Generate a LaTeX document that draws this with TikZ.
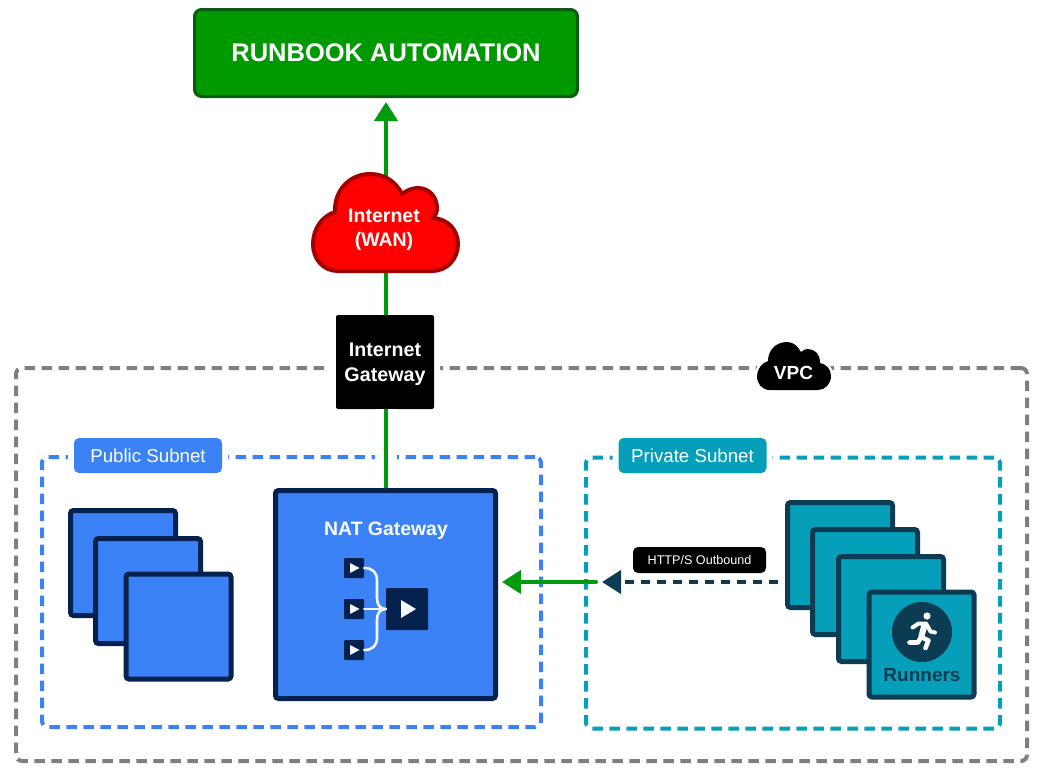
\documentclass[tikz,border=0pt]{standalone}
\usepackage{fontspec}
\setmainfont{Liberation Sans}
\usetikzlibrary{arrows.meta,calc}
\definecolor{rbgreen}{HTML}{009900}
\definecolor{rbedge}{HTML}{0B5A12}
\definecolor{lnk}{HTML}{009A0E}
\definecolor{pubblue}{HTML}{3B82F6}
\definecolor{navy}{HTML}{05224F}
\definecolor{teal1}{HTML}{069FBA}
\definecolor{tealdark}{HTML}{0B3C53}
\definecolor{vpcgrey}{HTML}{7F7F7F}
\definecolor{cloudedge}{HTML}{A30000}
\definecolor{softwhite}{HTML}{F4F7FF}
\newcommand{\fsz}[1]{\fontsize{#1pt}{\dimexpr #1pt*13/10\relax}\selectfont}
\tikzset{
  x=1pt,y=-1pt,
  region/.style={draw,line width=4pt,dash pattern=on 10.5pt off 6.5pt,rounded corners=6pt,inner sep=0pt,fill=none},
  halo/.style={preaction={draw=white,line width=#1,dash pattern=}},
  tag/.style={halo=12pt,rounded corners=5pt,inner sep=0pt,text=white,font=\fsz{18.7}},
  pubcard/.style={draw=navy,fill=pubblue,line width=5pt,rounded corners=3pt,inner sep=0pt},
  runcard/.style={draw=tealdark,fill=teal1,line width=5pt,rounded corners=3pt,inner sep=0pt},
  minicard/.style={fill=navy,rounded corners=1pt,inner sep=0pt},
  play/.style={fill=softwhite,draw=none},
  flow/.style={draw=lnk,line width=4pt,-{Triangle[length=19pt,width=23pt]}},
  fork/.style={draw=softwhite,line width=2.6pt,line cap=round},
  limb/.style={draw=white,line width=4pt,line cap=round,line join=round}
}
\begin{document}
\begin{tikzpicture}
\useasboundingbox (0,0) rectangle (1045,772);
% regions
\node[region,draw=vpcgrey,minimum width=1011pt,minimum height=393pt] (vpc) at (521.5,564.5) {};
\node[region,draw=pubblue,minimum width=499pt,minimum height=270pt] (pub) at (291.5,592) {};
\node[region,draw=teal1,minimum width=414pt,minimum height=271pt] (priv) at (793,593) {};
\node[tag,fill=pubblue,minimum width=148pt,minimum height=35pt,text depth=0pt] (publabel) at (148,455.5) {Public Subnet};
\node[tag,fill=teal1,minimum width=148pt,minimum height=35pt] (privlabel) at (692.5,455.5) {Private Subnet};
% main boxes
\node[draw=rbedge,fill=rbgreen,line width=3pt,rounded corners=7pt,minimum width=383pt,minimum height=87pt,inner sep=0pt,text=white,font=\bfseries\fsz{25.5}] (rb) at (386,53) {RUNBOOK AUTOMATION};
\node[halo=12pt,fill=black,rounded corners=2pt,minimum width=98pt,minimum height=94pt,inner sep=0pt,text=white,align=center,font=\bfseries\fsz{19.7}] (gw) at (385,362) {};
\node[text=white,align=center,inner sep=0pt,font=\bfseries\fsz{19.7}] (gwtext) at (385,364) {Internet\\[-1pt]Gateway};
\node[draw=navy,fill=pubblue,line width=5pt,rounded corners=3pt,minimum width=220pt,minimum height=208pt,inner sep=0pt] (nat) at (385.5,594.5) {};
\node[text=white,inner sep=0pt,font=\bfseries\fsz{19.4}] (nattitle) at (386,531) {NAT Gateway};
% connectors
\draw[flow,shorten >=4pt] (rb.south |- gw.north) -- (rb.south);
\draw[draw=white,line width=22pt] (rb.south |- gw.south) -- ([yshift=2pt]rb.south |- nat.north);
\draw[draw=lnk,line width=4pt] (rb.south |- gw.south) -- (rb.south |- nat.north);
% cloud
\draw[draw=cloudedge,fill=red,line width=4pt,line join=round] (338,271) .. controls (323,271) and (313,259) .. (313,244) .. controls (313,229) and (322,216) .. (335,212) .. controls (334,190) and (350,174) .. (370,174) .. controls (385,174) and (396,182) .. (402,194) .. controls (407,190) and (413,188) .. (418,188) .. controls (429,188) and (437,197) .. (437,208) .. controls (437,212) and (436,215) .. (433,218) .. controls (448,219) and (458,230) .. (458,244) .. controls (458,259) and (447,271) .. (432,271) -- cycle;
\node[text=white,align=center,inner sep=0pt,font=\bfseries\fsz{19.5}] (wan) at (384,230) {Internet\\[-1pt](WAN)};
% VPC cloud
\fill[black,preaction={draw=white,line width=5pt}] (770,390) .. controls (762,390) and (757,384) .. (757,376) .. controls (757,369) and (762,363) .. (768,361) .. controls (768,350) and (776,342) .. (787,342) .. controls (793,342) and (798,346) .. (801,352) .. controls (803,350) and (806,349) .. (808,349) .. controls (815,349) and (820,355) .. (820,361) .. controls (820,362) and (820,363) .. (820,363) .. controls (826,364) and (831,369) .. (831,376) .. controls (831,384) and (825,390) .. (818,390) -- cycle;
\node[text=white,inner sep=0pt,font=\bfseries\fsz{19}] (vpclabel) at (793.5,373) {VPC};
% public stack
\node[pubcard,minimum width=105pt,minimum height=105pt] (p1) at (123,563) {};
\node[pubcard,minimum width=105pt,minimum height=105pt] (p2) at (148,591) {};
\node[pubcard,minimum width=105pt,minimum height=105pt] (p3) at (178.5,626.5) {};
% private stack
\node[runcard,minimum width=105pt,minimum height=105pt] (r1) at (840,555) {};
\node[runcard,minimum width=105pt,minimum height=105pt] (r2) at (865,582) {};
\node[runcard,minimum width=105pt,minimum height=105pt] (r3) at (891,609) {};
\node[runcard,minimum width=105pt,minimum height=105pt] (r4) at (921.5,644.5) {};
\node[circle,fill=tealdark,minimum size=60pt,inner sep=0pt] (icon) at (922,632) {};
\node[text=tealdark,inner sep=0pt,font=\bfseries\fsz{19}] (runlabel) at (922,675) {Runners};
% runner figure
\fill[white] (927,616) circle (3.6);
\draw[limb] (912.5,627.5) -- (918.5,623.5) -- (926,623.5) -- (930.5,631.5) -- (935,632.5);
\draw[limb,line width=6pt] (924.5,625) -- (921.5,636);
\draw[limb,line width=4.6pt] (921,637) -- (928.5,640.5) -- (925.5,648);
\draw[limb,line width=4.6pt] (921,637) -- (918,642.5) -- (909.5,642.5);
% NAT inner
\node[minicard,minimum size=20pt] (s1) at (354,568) {};
\node[minicard,minimum size=20pt] (s2) at (354,609) {};
\node[minicard,minimum size=20pt] (s3) at (354,650) {};
\node[minicard,minimum size=42pt] (big) at (407,609) {};
\draw[fork] (s1.east) .. controls (372,568) and (377,572) .. (377,580) -- (377,598) .. controls (377,605) and (380,609) .. (big.west);
\draw[fork] (s2.east) -- (big.west);
\draw[fork] (s3.east) .. controls (372,650) and (377,646) .. (377,638) -- (377,620) .. controls (377,613) and (380,609) .. (big.west);
\foreach \n in {s1,s2,s3}{\fill[play] ($(\n.center)+(-4,-5)$) -- ++(9.5,5) -- ++(-9.5,5) -- cycle;}
\fill[play] (401,600) -- (416,609) -- (401,618) -- cycle;
% horizontal flow
\coordinate (gstart) at (596,582);
\node[fill=black,rounded corners=5pt,minimum width=133pt,minimum height=26pt,inner sep=0pt,text=white,font=\fsz{12.6}] (http) at (699.5,560) {HTTP/S Outbound};
\draw[flow,line cap=round,shorten >=4pt] (gstart) -- (gstart -| nat.east);
\draw[draw=tealdark,line width=4pt,dash pattern=on 9pt off 7pt,-{Triangle[length=19pt,width=23pt,fill=tealdark]},shorten >=6pt,shorten <=7pt] (gstart -| r1.west) -- (gstart);
\end{tikzpicture}
\end{document}
